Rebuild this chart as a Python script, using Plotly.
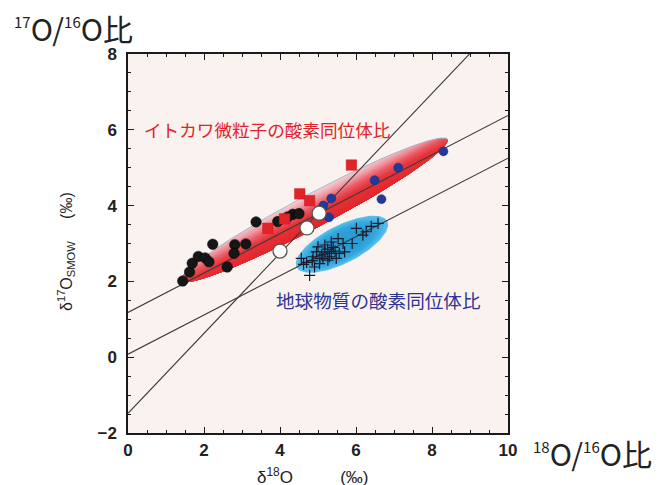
import numpy as np
import plotly.graph_objects as go

# ---------------- data ----------------
black_x = [1.44, 1.62, 1.69, 1.85, 2.03, 2.13, 2.23, 2.61, 2.81, 2.79, 3.10, 3.37, 3.94, 4.34, 4.50, 4.20]
black_y = [2.01, 2.25, 2.48, 2.66, 2.62, 2.52, 2.98, 2.38, 2.97, 2.74, 2.99, 3.57, 3.58, 3.77, 3.79, 3.70]

red_x = [3.68, 4.12, 4.52, 4.78, 5.88]
red_y = [3.40, 3.65, 4.31, 4.13, 5.07]

blue_x = [5.14, 5.35, 5.29, 6.49, 6.67, 7.11, 8.30]
blue_y = [4.00, 4.19, 3.69, 4.67, 4.17, 5.00, 5.43]

open_x = [4.00, 4.71, 5.03]
open_y = [2.80, 3.41, 3.80]

cross_x = [4.78, 4.56, 4.87, 5.00, 5.18, 5.35, 5.53, 5.66, 5.48, 5.26, 5.04, 4.91, 5.70,
           6.01, 6.27, 6.18, 6.58, 5.18, 4.96, 5.35, 5.56, 5.13, 4.70, 5.10, 5.25, 5.40,
           4.85, 5.05, 5.30, 5.45, 5.90, 6.40, 4.62]
cross_y = [2.16, 2.61, 2.65, 2.91, 2.78, 3.04, 3.13, 3.00, 2.61, 2.56, 2.47, 2.38, 2.78,
           3.40, 3.31, 3.22, 3.53, 2.96, 2.78, 2.74, 2.74, 2.61, 2.50, 2.70, 2.85, 2.90,
           2.55, 2.60, 2.65, 2.80, 3.00, 3.45, 2.45]

# reference lines: intercept, slope
line_intercepts = [1.18, 0.08, -1.48]
line_slopes = [0.52, 0.517, 1.055]

# ellipses: center x, center y, semi-major, semi-minor, angle (deg)
itokawa_ellipse = [4.9, 3.88, 3.97, 0.44, 28.0]
earth_ellipse = [5.63, 2.98, 1.34, 0.50, 27.0]

x_ticks = [0, 2, 4, 6, 8, 10]
y_ticks = [-2, 0, 2, 4, 6, 8]

label_itokawa = "イトカワ微粒子の酸素同位体比"
label_earth = "地球物質の酸素同位体比"

# ---------------- helpers ----------------
def to_xy(ell, u, v):
    cx, cy, a, b, ang = ell
    t = np.radians(ang)
    return cx + u * np.cos(t) - v * np.sin(t), cy + u * np.sin(t) + v * np.cos(t)


def hex2rgb(h):
    h = h.lstrip('#')
    return [int(h[i:i + 2], 16) for i in (0, 2, 4)]


def interp_color(stops, t):
    for (t0, c0), (t1, c1) in zip(stops[:-1], stops[1:]):
        if t0 <= t <= t1:
            f = (t - t0) / (t1 - t0) if t1 > t0 else 0
            r0, r1 = hex2rgb(c0), hex2rgb(c1)
            c = [round(r0[i] + f * (r1[i] - r0[i])) for i in range(3)]
            return f"rgb({c[0]},{c[1]},{c[2]})"
    return stops[-1][1]


fig = go.Figure()

# ---- Itokawa ellipse with minor-axis gradient ----
cx, cy, a, b, ang = itokawa_ellipse
red_stops = [(0.0, '#e2242a'), (0.42, '#e6343a'), (0.6, '#ea5862'), (0.8, '#f09ca6'), (1.0, '#f6d0d5')]
n_layers = 40
for i in range(n_layers, 0, -1):
    vt = -b + 2 * b * i / n_layers
    vs = np.linspace(-b, vt, 60)
    us = a * np.sqrt(np.clip(1 - (vs / b) ** 2, 0, 1))
    u_all = np.concatenate([us, -us[::-1]])
    v_all = np.concatenate([vs, vs[::-1]])
    xs, ys = to_xy(itokawa_ellipse, u_all, v_all)
    fig.add_trace(go.Scatter(x=xs, y=ys, mode='lines', fill='toself',
                             fillcolor=interp_color(red_stops, i / n_layers),
                             line=dict(width=0), hoverinfo='skip', showlegend=False))
th = np.linspace(0, np.pi, 120)
xs, ys = to_xy(itokawa_ellipse, a * np.cos(th), b * np.sin(th))
fig.add_trace(go.Scatter(x=xs, y=ys, mode='lines', line=dict(color='#9dbccc', width=1),
                         hoverinfo='skip', showlegend=False))

# ---- Earth ellipse with radial gradient ----
blue_stops = [(0.0, '#2a9bd4'), (0.6, '#33a8de'), (1.0, '#5cbfea')]
n_b = 12
for i in range(n_b, 0, -1):
    s = 0.45 + 0.55 * i / n_b
    th = np.linspace(0, 2 * np.pi, 120)
    xs, ys = to_xy(earth_ellipse, earth_ellipse[2] * s * np.cos(th), earth_ellipse[3] * s * np.sin(th))
    fig.add_trace(go.Scatter(x=xs, y=ys, mode='lines', fill='toself',
                             fillcolor=interp_color(blue_stops, i / n_b),
                             line=dict(width=0), hoverinfo='skip', showlegend=False))

# ---- reference lines ----
for b0, m in zip(line_intercepts, line_slopes):
    xl = np.array([0.0, 10.0])
    fig.add_trace(go.Scatter(x=xl, y=b0 + m * xl, mode='lines',
                             line=dict(color='#3a3a3a', width=1.1),
                             hoverinfo='skip', showlegend=False))

# ---- markers ----
fig.add_trace(go.Scatter(x=cross_x, y=cross_y, mode='markers',
                         marker=dict(symbol='cross-thin', size=8, line=dict(color='#1a1a2a', width=1.2)),
                         showlegend=False))
fig.add_trace(go.Scatter(x=black_x, y=black_y, mode='markers',
                         marker=dict(symbol='circle', size=10.5, color='#161616',
                                     line=dict(color='#000000', width=0.5)),
                         showlegend=False))
fig.add_trace(go.Scatter(x=red_x, y=red_y, mode='markers',
                         marker=dict(symbol='square', size=10.5, color='#e1232a',
                                     line=dict(color='#c81a20', width=0.5)),
                         showlegend=False))
fig.add_trace(go.Scatter(x=blue_x, y=blue_y, mode='markers',
                         marker=dict(symbol='circle', size=9, color='#1f3a9a',
                                     line=dict(color='#152a70', width=0.5)),
                         showlegend=False))
fig.add_trace(go.Scatter(x=open_x, y=open_y, mode='markers',
                         marker=dict(symbol='circle', size=14, color='#ffffff',
                                     line=dict(color='#555555', width=1.3)),
                         showlegend=False))

axis_common = dict(
    showgrid=False, zeroline=False, showline=True, linecolor='#1a1a1a', linewidth=1.5,
    mirror='allticks', ticks='inside', ticklen=6, tickwidth=1.2, tickcolor='#1a1a1a',
    minor=dict(ticks='inside', dtick=0.5, ticklen=3.5, tickwidth=1, tickcolor='#1a1a1a'),
    tickfont=dict(family='Liberation Sans, Arial', size=17, color='#222222', weight='bold'),
)

# page body has an 8px margin, so margins are offset to land the frame at 128..508 / 54..433
fig.update_layout(
    width=669, height=485,
    margin=dict(l=120, r=169, t=46, b=60),
    paper_bgcolor='#ffffff', plot_bgcolor='#faf2ee',
    xaxis=dict(range=[0, 10], tickvals=x_ticks, ticklabelstandoff=1, **axis_common),
    yaxis=dict(range=[-2, 8], tickvals=y_ticks, ticklabelstandoff=6, **axis_common),
    showlegend=False,
)

cjk = 'Noto Sans CJK JP'
annotations = [
    dict(text=label_itokawa, x=0.37, y=6.0, xref='x', yref='y', xanchor='left', yanchor='middle',
         showarrow=False, font=dict(family=cjk, size=17.6, color='#e0222a')),
    dict(text=label_earth, x=3.85, y=1.53, xref='x', yref='y', xanchor='left', yanchor='middle',
         showarrow=False, font=dict(family=cjk, size=18.6, color='#2c3494')),
    dict(text='<sup><span style="font-size:15px">17</span></sup>O/<sup><span style="font-size:15px">16</span></sup>O比',
         x=(12 - 128) / 380, y=(433 - 28) / 379, xref='paper', yref='paper',
         xanchor='left', yanchor='middle', showarrow=False,
         font=dict(family=cjk, size=30, color='#222222')),
    dict(text='<sup><span style="font-size:15px">18</span></sup>O/<sup><span style="font-size:15px">16</span></sup>O比',
         x=(531 - 128) / 380, y=(433 - 453) / 379, xref='paper', yref='paper',
         xanchor='left', yanchor='middle', showarrow=False,
         font=dict(family=cjk, size=30, color='#222222')),
    dict(text='δ<sup>18</sup>O          (‰)',
         x=(312 - 128) / 380, y=(433 - 476) / 379, xref='paper', yref='paper',
         xanchor='center', yanchor='middle', showarrow=False,
         font=dict(family='Liberation Sans, Arial', size=17, color='#222222')),
    dict(text='δ<sup>17</sup>O<sub>SMOW</sub>     (‰)', textangle=-90,
         x=(66 - 128) / 380, y=(433 - 252) / 379, xref='paper', yref='paper',
         xanchor='center', yanchor='middle', showarrow=False,
         font=dict(family='Liberation Sans, Arial', size=16, color='#222222')),
]
fig.update_layout(annotations=annotations)

fig.write_html("out.html")
